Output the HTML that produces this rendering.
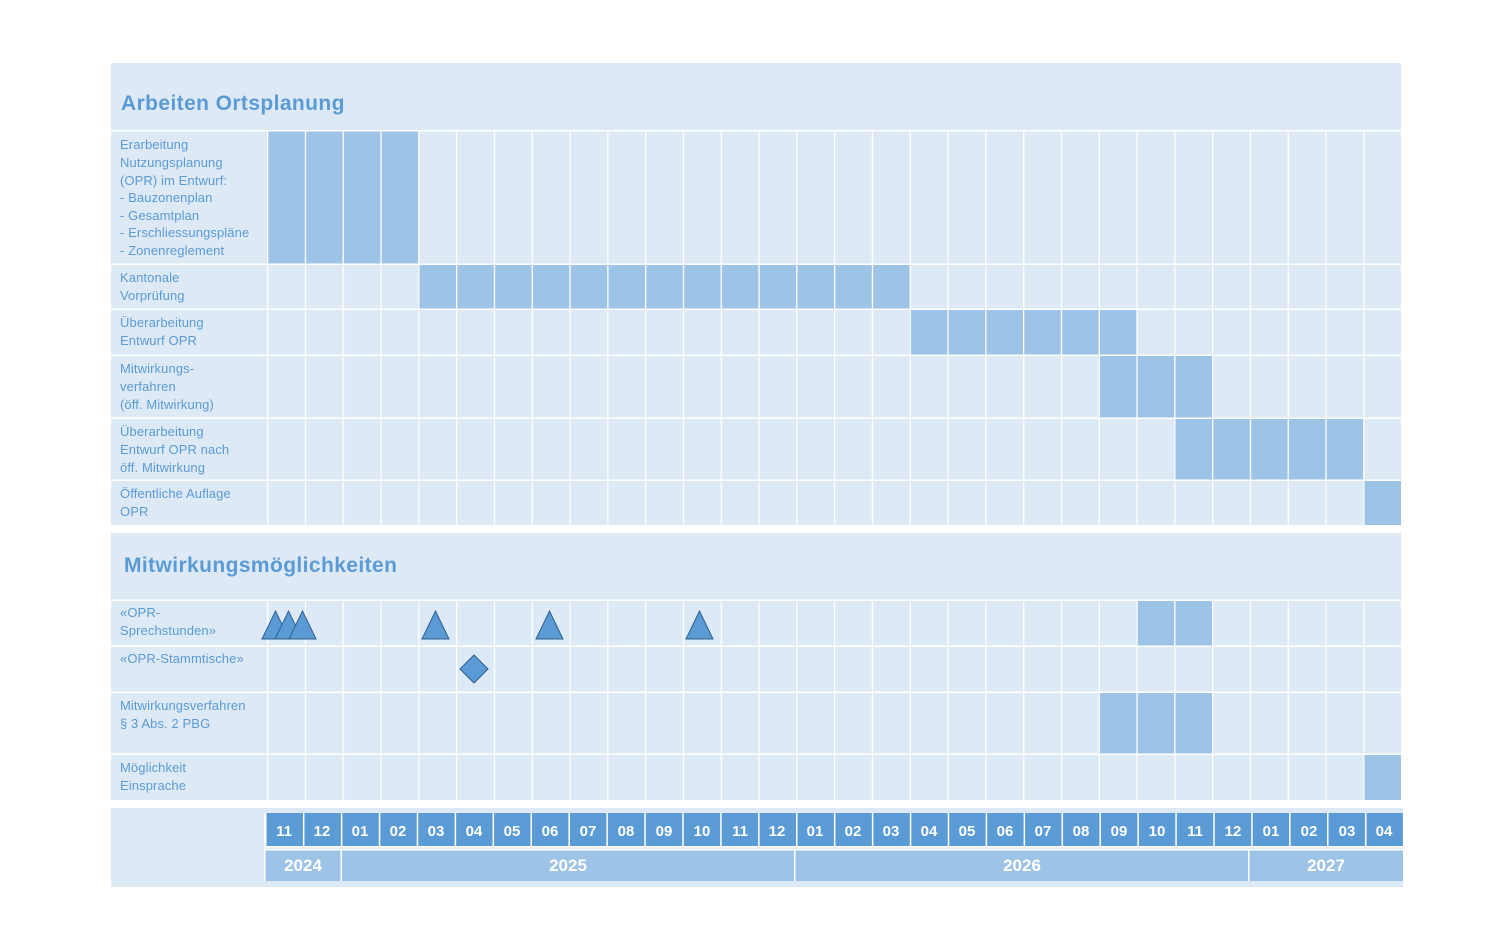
<!DOCTYPE html>
<html><head><meta charset="utf-8"><style>
html,body{margin:0;padding:0;background:#fff;}
svg{display:block;}
.l{font-family:"Liberation Sans",sans-serif;font-size:13px;fill:#5b9bd5;letter-spacing:0.1px;}
.t{font-family:"Liberation Sans",sans-serif;font-size:21px;font-weight:bold;fill:#5b9bd5;letter-spacing:0.4px;}
.m{font-family:"Liberation Sans",sans-serif;font-size:15px;font-weight:bold;fill:#fff;text-anchor:middle;}
.y{font-family:"Liberation Sans",sans-serif;font-size:17px;font-weight:bold;fill:#fff;text-anchor:middle;}
</style></head><body>
<svg width="1512" height="945" viewBox="0 0 1512 945" xmlns="http://www.w3.org/2000/svg">
<defs>
<pattern id="vg" x="267" y="0" width="37.8" height="945" patternUnits="userSpaceOnUse">
<rect x="0" y="0" width="1.3" height="945" fill="#fff"/>
</pattern>
<pattern id="vm" x="265" y="0" width="37.93" height="945" patternUnits="userSpaceOnUse">
<rect x="0" y="0" width="1.5" height="945" fill="#fff"/>
</pattern>
</defs>
<rect x="111" y="63" width="1290" height="463" fill="#dde9f5"/>
<text class="t" x="121" y="110">Arbeiten Ortsplanung</text>
<g fill="#9dc3e6">
<rect x="267" y="131" width="151.2" height="133"/>
<rect x="418.2" y="264" width="491.4" height="45"/>
<rect x="909.6" y="309" width="226.8" height="46"/>
<rect x="1098.6" y="355" width="113.4" height="63"/>
<rect x="1174.2" y="418" width="189" height="62"/>
<rect x="1363.2" y="480" width="37.8" height="45"/>
</g>
<rect x="266" y="131" width="1135" height="395" fill="url(#vg)"/>
<g fill="#fff">
<rect x="111" y="130" width="1290" height="1.5"/>
<rect x="111" y="263.5" width="1290" height="1.5"/>
<rect x="111" y="308.5" width="1290" height="1.5"/>
<rect x="111" y="354.5" width="1290" height="1.5"/>
<rect x="111" y="417.5" width="1290" height="1.5"/>
<rect x="111" y="479.5" width="1290" height="1.5"/>
<rect x="111" y="525" width="1290" height="8"/>
</g>
<text class="l"><tspan x="120" y="149">Erarbeitung</tspan><tspan x="120" y="167">Nutzungsplanung</tspan><tspan x="120" y="185">(OPR) im Entwurf:</tspan><tspan x="120" y="202">- Bauzonenplan</tspan><tspan x="120" y="220">- Gesamtplan</tspan><tspan x="120" y="237">- Erschliessungspläne</tspan><tspan x="120" y="255">- Zonenreglement</tspan></text>
<text class="l"><tspan x="120" y="282">Kantonale</tspan><tspan x="120" y="300">Vorprüfung</tspan></text>
<text class="l"><tspan x="120" y="327">Überarbeitung</tspan><tspan x="120" y="345">Entwurf OPR</tspan></text>
<text class="l"><tspan x="120" y="373">Mitwirkungs-</tspan><tspan x="120" y="391">verfahren</tspan><tspan x="120" y="409">(öff. Mitwirkung)</tspan></text>
<text class="l"><tspan x="120" y="436">Überarbeitung</tspan><tspan x="120" y="454">Entwurf OPR nach</tspan><tspan x="120" y="472">öff. Mitwirkung</tspan></text>
<text class="l"><tspan x="120" y="498">Öffentliche Auflage</tspan><tspan x="120" y="516">OPR</tspan></text>
<rect x="111" y="533" width="1290" height="267" fill="#dde9f5"/>
<text class="t" x="124" y="572">Mitwirkungsmöglichkeiten</text>
<g fill="#9dc3e6">
<rect x="1136.4" y="600" width="75.6" height="46"/>
<rect x="1098.6" y="692" width="113.4" height="62"/>
<rect x="1363.2" y="754" width="37.8" height="46"/>
</g>
<rect x="266" y="600" width="1135" height="200" fill="url(#vg)"/>
<g fill="#fff">
<rect x="111" y="599.5" width="1290" height="1.5"/>
<rect x="111" y="645.5" width="1290" height="1.5"/>
<rect x="111" y="691.5" width="1290" height="1.5"/>
<rect x="111" y="753.5" width="1290" height="1.5"/>
</g>
<g fill="#5b9bd5" stroke="#2f5f8f" stroke-width="1">
<polygon points="262,639 275.5,611 289,639"/>
<polygon points="275,639 288.5,611 302,639"/>
<polygon points="289,639 302.5,611 316,639"/>
<polygon points="422,639 435.5,611 449,639"/>
<polygon points="536,639 549.5,611 563,639"/>
<polygon points="686,639 699.5,611 713,639"/>
<polygon points="474,655 488,669 474,683 460,669"/>
</g>
<text class="l"><tspan x="120" y="617">«OPR-</tspan><tspan x="120" y="635">Sprechstunden»</tspan></text>
<text class="l"><tspan x="120" y="663">«OPR-Stammtische»</tspan></text>
<text class="l"><tspan x="120" y="710">Mitwirkungsverfahren</tspan><tspan x="120" y="728">§ 3 Abs. 2 PBG</tspan></text>
<text class="l"><tspan x="120" y="772">Möglichkeit</tspan><tspan x="120" y="790">Einsprache</tspan></text>
<rect x="111" y="808" width="1292" height="79" fill="#dde9f5"/>
<rect x="265" y="813" width="1138" height="33" fill="#5b9bd5"/>
<rect x="265" y="850" width="1138" height="31" fill="#9dc3e6"/>
<rect x="265" y="813" width="1138" height="33" fill="url(#vm)"/>
<g fill="#dde9f5"><rect x="265" y="846" width="1138" height="4"/></g>
<g fill="#fff">
<rect x="264" y="813" width="1.5" height="68"/>
<rect x="340.5" y="850" width="1.5" height="31"/>
<rect x="794" y="850" width="1.5" height="31"/>
<rect x="1248" y="850" width="1.5" height="31"/>
<rect x="265" y="846" width="1138" height="1.5"/>
<rect x="265" y="849" width="1138" height="1.5"/>
</g>
<g>
<text class="m" x="284" y="836">11</text><text class="m" x="322" y="836">12</text><text class="m" x="360" y="836">01</text><text class="m" x="398" y="836">02</text><text class="m" x="436" y="836">03</text><text class="m" x="474" y="836">04</text><text class="m" x="512" y="836">05</text><text class="m" x="550" y="836">06</text><text class="m" x="588" y="836">07</text><text class="m" x="626" y="836">08</text><text class="m" x="664" y="836">09</text><text class="m" x="702" y="836">10</text><text class="m" x="740" y="836">11</text><text class="m" x="777" y="836">12</text><text class="m" x="815" y="836">01</text><text class="m" x="853" y="836">02</text><text class="m" x="891" y="836">03</text><text class="m" x="929" y="836">04</text><text class="m" x="967" y="836">05</text><text class="m" x="1005" y="836">06</text><text class="m" x="1043" y="836">07</text><text class="m" x="1081" y="836">08</text><text class="m" x="1119" y="836">09</text><text class="m" x="1157" y="836">10</text><text class="m" x="1195" y="836">11</text><text class="m" x="1233" y="836">12</text><text class="m" x="1271" y="836">01</text><text class="m" x="1309" y="836">02</text><text class="m" x="1347" y="836">03</text><text class="m" x="1384" y="836">04</text>
</g>
<text class="y" x="303" y="871">2024</text>
<text class="y" x="568" y="871">2025</text>
<text class="y" x="1022" y="871">2026</text>
<text class="y" x="1326" y="871">2027</text>
</svg>
</body></html>
